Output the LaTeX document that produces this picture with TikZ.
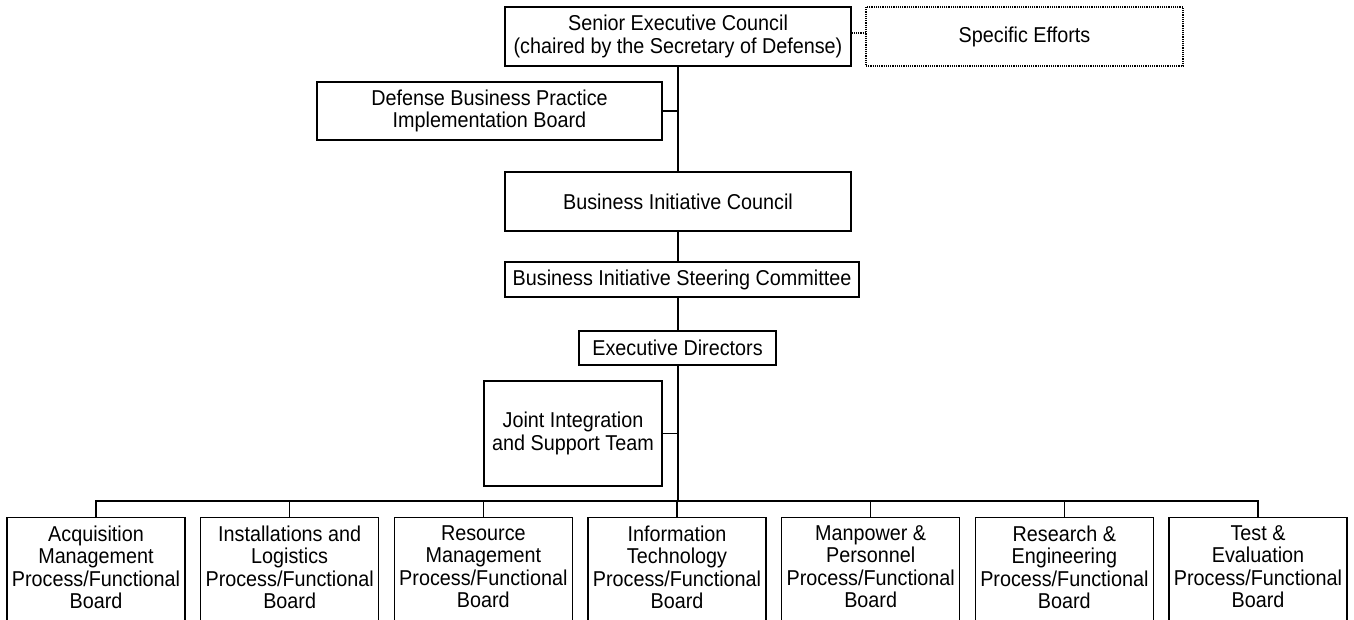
\documentclass[tikz,border=0pt]{standalone}
\usepackage{fontspec}
\setmainfont{Liberation Sans}[FakeStretch=0.92]
\usepackage{tikz}
\usetikzlibrary{positioning}

\begin{document}
\begin{tikzpicture}[
    x=1pt,y=-1pt,
    box/.style={draw,line width=1.2pt,align=center,inner sep=0pt,font=\fontsize{21.5}{22.5}\selectfont},
    dotbox/.style={box,densely dotted,line width=1.5pt},
    board/.style={box,minimum width=178,inner ysep=8pt,text depth=12pt,anchor=north},
    link/.style={line width=1.3pt}
]
    \useasboundingbox (0,0) rectangle (1354,620);

    % Top level
    \node[box,minimum width=346,minimum height=59] (sec) at (678,36.5) {Senior Executive Council\\(chaired by the Secretary of Defense)};
    \node[dotbox,minimum width=317,minimum height=59] (spec) at (1024.5,36.5) {Specific Efforts};
    \node[box,minimum width=345,minimum height=58] (dbpib) at (489.5,111) {Defense Business Practice\\Implementation Board};

    % Councils and committees
    \node[box,minimum width=346,minimum height=59] (bic) at (678,201.5) {Business Initiative Council};
    \node[box,minimum width=354,minimum height=35] (bisc) at (682,279.5) {Business Initiative Steering Committee};
    \node[box,minimum width=197,minimum height=34] (ed) at (677.5,348) {Executive Directors};
    \node[box,minimum width=178,minimum height=105] (jist) at (573,433.5) {Joint Integration\\and Support Team};

    % Process/functional boards
    \foreach \i/\txt in {1/{Acquisition\\Management},2/{Installations and\\Logistics},3/{Resource\\Management},4/{Information\\Technology},5/{Manpower \&\\Personnel},6/{Research \&\\Engineering},7/{Test \&\\Evaluation}}
        \node[board] (b\i) at ({96+193.67*(\i-1)},517) {\txt\\Process/Functional\\Board};

    % Connections
    \coordinate (bus) at (678,501);
    \draw[densely dotted,line width=1.2pt] (sec.east |- 0,33) -- (spec.west |- 0,33);
    \draw[link] (sec.south) -- (bic.north);
    \draw[link] (dbpib.east) -- (dbpib.east -| sec.south);
    \draw[link] (bic.south) -- (bic.south |- bisc.north);
    \draw[link] (bisc.south -| bic.south) -- (ed.north -| bic.south);
    \draw[link] (ed.south -| bic.south) -- (bus);
    \draw[link] (jist.east) -- (jist.east -| bus);
    \draw[link] (b1.north) |- (bus) -| (b7.north);
    \foreach \i in {2,...,6}
        \draw[link] (b\i.north) -- (b\i.north |- bus);
\end{tikzpicture}
\end{document}
